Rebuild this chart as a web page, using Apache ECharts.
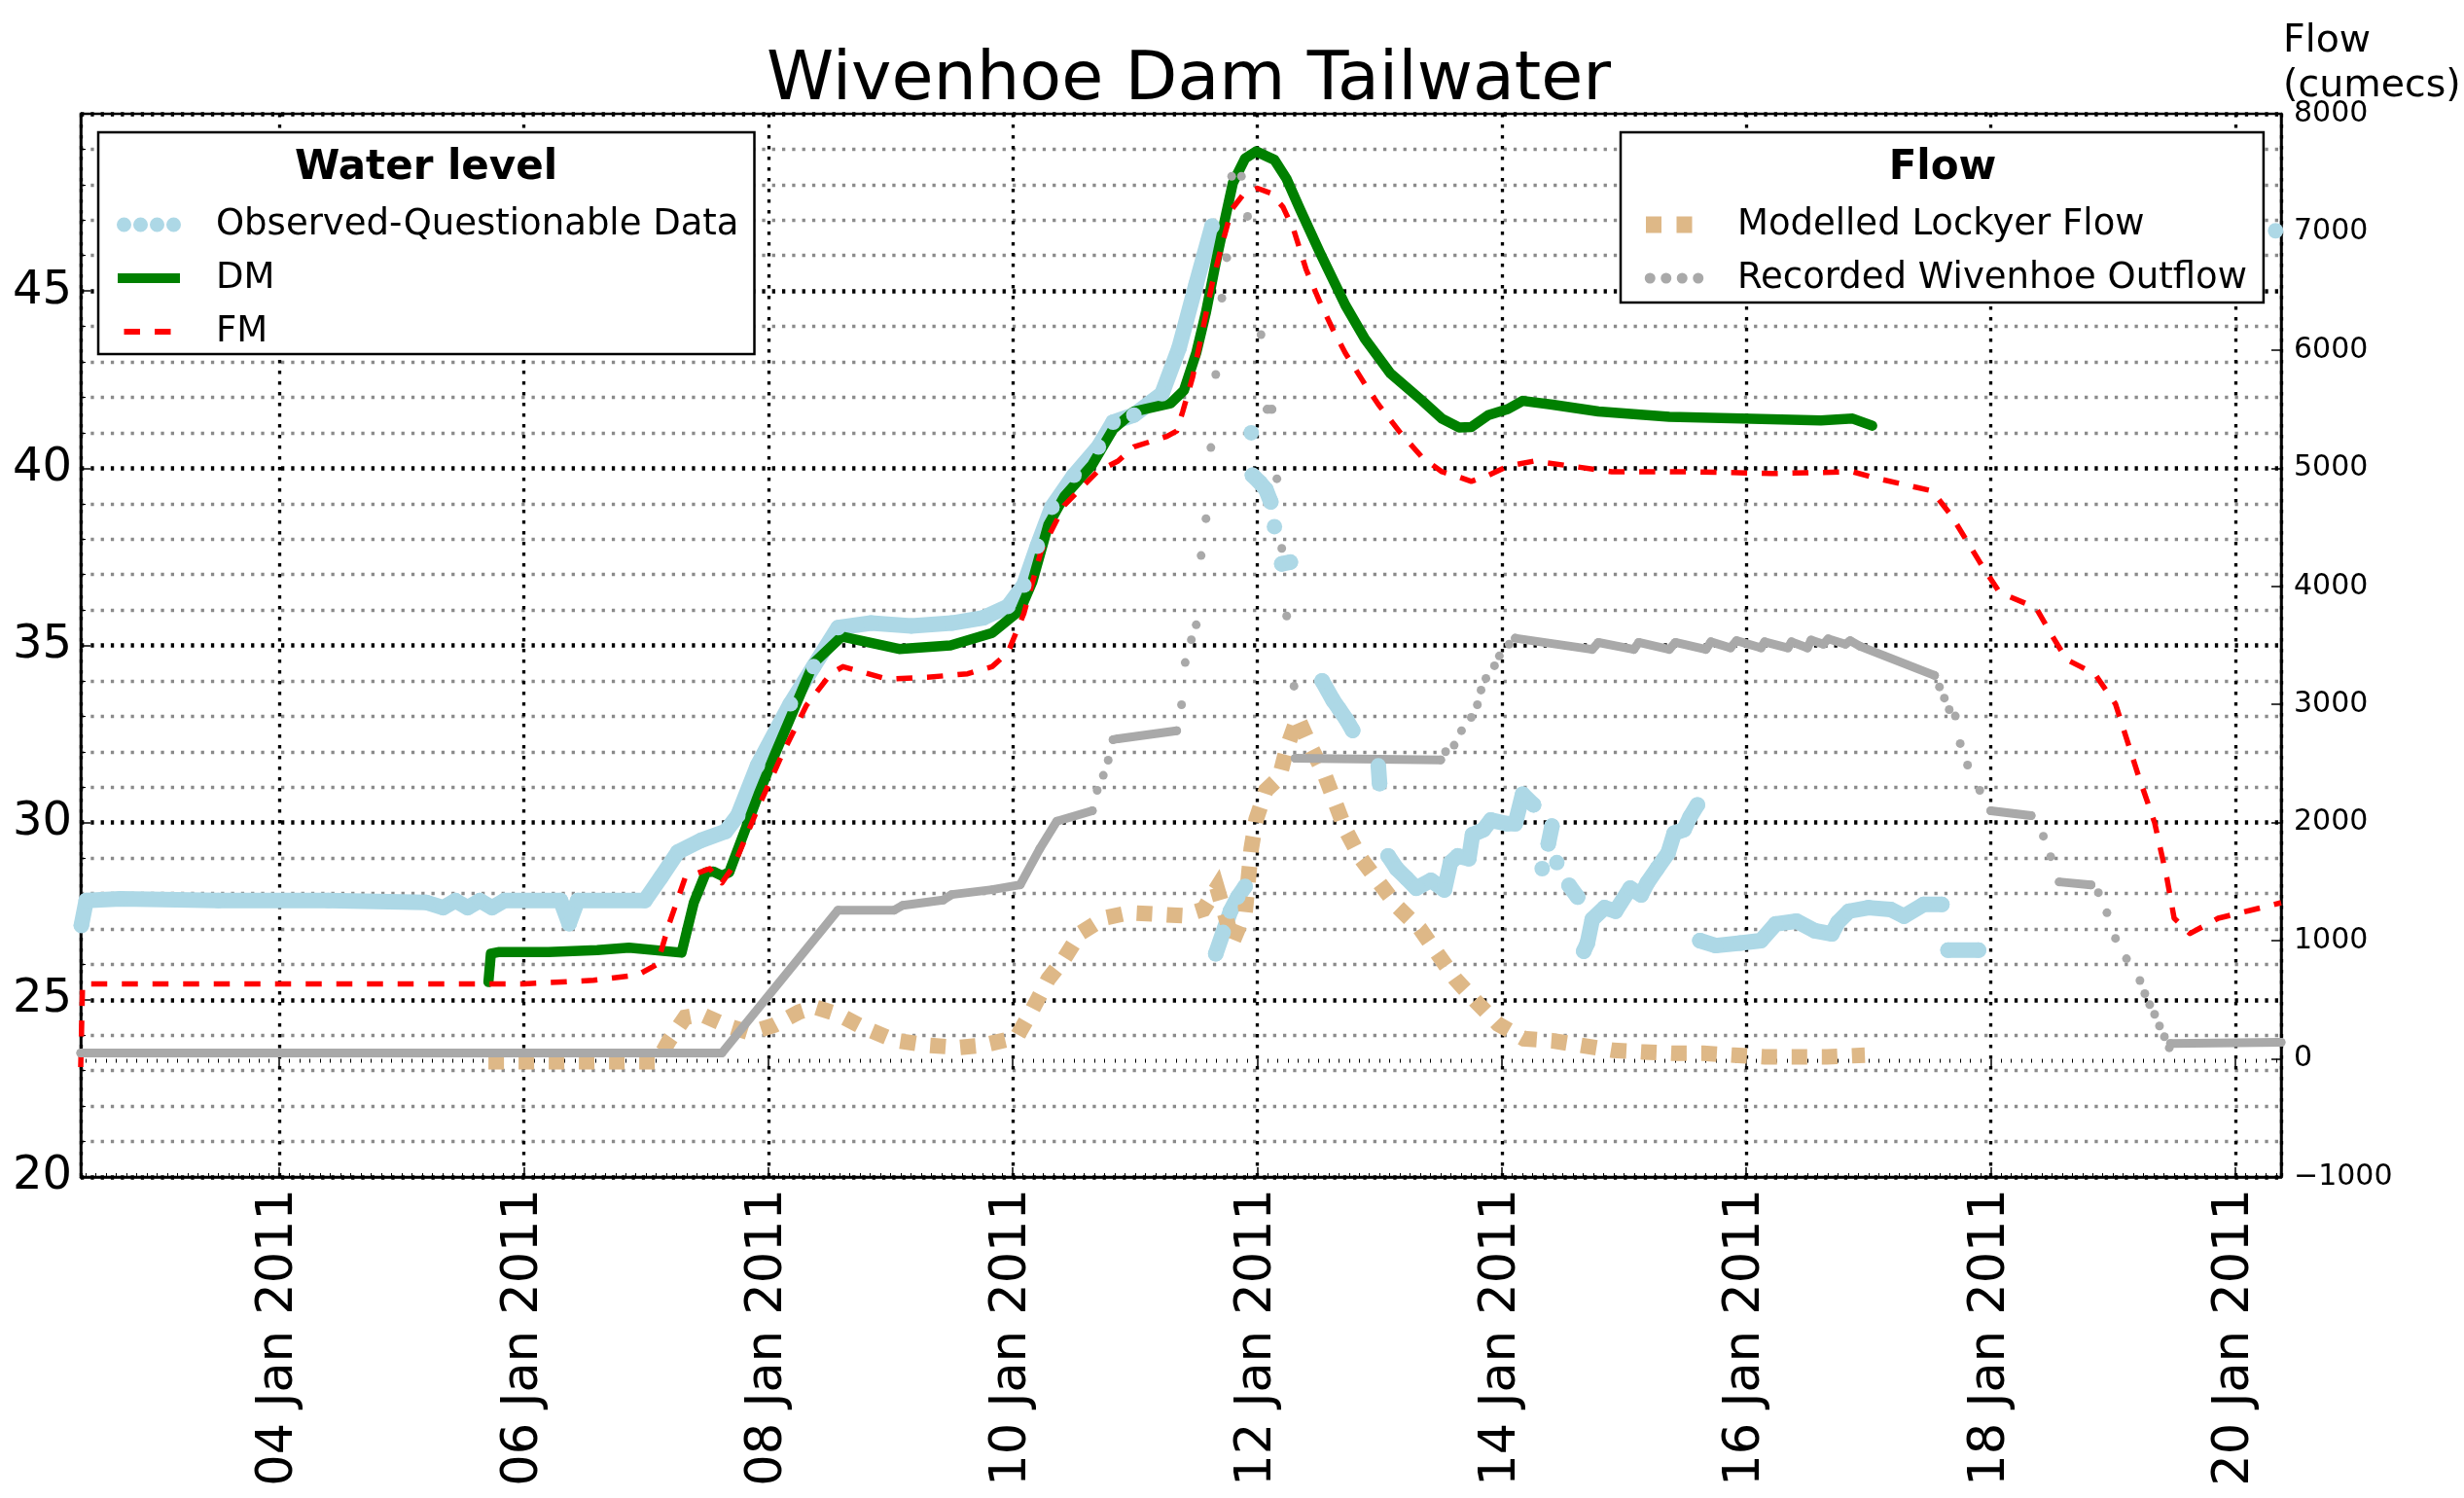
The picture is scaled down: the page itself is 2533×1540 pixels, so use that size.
<!DOCTYPE html>
<html>
<head>
<meta charset="utf-8">
<title>Wivenhoe Dam Tailwater</title>
<script src="https://cdn.jsdelivr.net/npm/echarts@6/dist/echarts.min.js"></script>
<style>
  html, body { margin: 0; padding: 0; background: #fff; }
  #chart { width: 2533px; height: 1540px; }
</style>
</head>
<body>
<div id="chart"></div>
<script>
// Time is expressed as day of January 2011 (e.g. 11.5 = 11 Jan 12:00).
const X_MIN = 2.375;
const X_MAX = 20.375;

// Water level (m) - observed gauge record, split into the runs where readings exist
const observedRuns = [
  [[2.38, 27.1], [2.42, 27.8], [2.7, 27.85], [3.5, 27.8], [4.4, 27.8], [5.2, 27.75], [5.34, 27.6], [5.44, 27.8],
   [5.54, 27.6], [5.64, 27.8], [5.74, 27.6], [5.84, 27.8], [6.3, 27.8], [6.37, 27.15], [6.44, 27.8], [6.99, 27.8],
   [7.12, 28.45], [7.26, 29.17], [7.45, 29.5], [7.65, 29.75], [7.75, 30.2], [7.91, 31.6], [8.18, 33.35], [8.37, 34.4],
   [8.57, 35.5], [8.84, 35.63], [9.17, 35.55], [9.5, 35.63], [9.76, 35.78], [9.96, 36.1], [10.09, 36.7], [10.2, 37.8],
   [10.32, 38.9], [10.5, 39.8], [10.7, 40.6], [10.82, 41.3], [10.99, 41.5], [11.22, 42.1], [11.36, 43.4],
   [11.5, 45.2], [11.63, 46.83]],
  [[11.66, 26.3], [11.72, 26.9], [11.78, 27.5], [11.84, 27.9], [11.9, 28.2]],
  [[11.95, 41.0]],
  [[11.96, 39.8], [12.02, 39.6], [12.07, 39.4], [12.11, 39.05]],
  [[12.14, 38.35]],
  [[12.2, 37.3], [12.27, 37.35]],
  [[12.53, 34.0], [12.62, 33.45], [12.67, 33.2], [12.73, 32.9], [12.78, 32.6]],
  [[12.99, 31.6], [13.0, 31.1]],
  [[13.07, 29.06], [13.14, 28.7], [13.22, 28.43], [13.3, 28.15], [13.42, 28.37], [13.53, 28.1], [13.58, 28.87],
   [13.64, 29.06], [13.73, 28.98], [13.76, 29.66], [13.85, 29.8], [13.91, 30.07], [14.04, 29.97], [14.11, 29.97],
   [14.17, 30.8], [14.26, 30.5]],
  [[14.33, 28.7]],
  [[14.38, 29.4], [14.41, 29.9]],
  [[14.45, 28.87]],
  [[14.55, 28.23], [14.62, 27.9]],
  [[14.67, 26.37], [14.7, 26.6], [14.74, 27.27], [14.84, 27.6], [14.93, 27.5], [15.05, 28.15], [15.14, 27.96],
   [15.19, 28.3], [15.27, 28.7], [15.36, 29.14], [15.41, 29.7], [15.49, 29.8], [15.54, 30.16], [15.6, 30.5]],
  [[15.62, 26.67], [15.75, 26.53], [15.95, 26.6], [16.12, 26.67], [16.24, 27.14], [16.41, 27.22], [16.56, 26.95],
   [16.7, 26.86], [16.75, 27.19], [16.84, 27.5], [17.0, 27.6], [17.18, 27.55], [17.29, 27.36], [17.45, 27.69],
   [17.6, 27.69]],
  [[17.65, 26.4], [17.9, 26.4]],
  [[20.33, 46.7]]
];

// Water level (m) - DM model
const dmLevel = [
  [5.71, 25.5], [5.73, 26.3], [5.8, 26.35], [6.2, 26.35], [6.6, 26.4], [6.86, 26.47], [7.29, 26.33], [7.39, 27.74],
  [7.49, 28.6], [7.55, 28.62], [7.62, 28.5], [7.68, 28.6], [7.92, 30.8], [8.05, 31.9], [8.37, 34.5], [8.6, 35.25],
  [9.07, 34.9], [9.49, 35.0], [9.83, 35.35], [10.06, 36.0], [10.16, 36.8], [10.29, 38.4], [10.42, 39.2],
  [10.65, 40.1], [10.82, 41.1], [10.99, 41.6], [11.29, 41.83], [11.4, 42.2], [11.5, 43.25], [11.58, 44.4],
  [11.66, 45.8], [11.74, 47.1], [11.8, 48.05], [11.9, 48.74], [11.99, 48.94], [12.14, 48.7], [12.24, 48.16],
  [12.35, 47.3], [12.51, 46.1], [12.72, 44.6], [12.88, 43.65], [13.09, 42.67], [13.35, 41.9], [13.51, 41.4],
  [13.65, 41.15], [13.75, 41.16], [13.89, 41.5], [14.05, 41.67], [14.17, 41.9], [14.4, 41.8], [14.79, 41.6],
  [15.37, 41.45], [15.96, 41.4], [16.61, 41.35], [16.87, 41.4], [17.03, 41.2]
];

// Water level (m) - FM model
const fmLevel = [
  [2.375, 23.1], [2.39, 25.45], [6.0, 25.45], [6.57, 25.55], [6.93, 25.7], [7.09, 26.0], [7.19, 27.16], [7.32, 28.45],
  [7.52, 28.7], [7.62, 28.3], [7.72, 28.8], [7.92, 30.45], [8.11, 31.9], [8.31, 33.3], [8.51, 34.2], [8.61, 34.4],
  [8.97, 34.05], [9.3, 34.1], [9.63, 34.2], [9.83, 34.4], [9.96, 34.8], [10.09, 35.9], [10.23, 37.65],
  [10.42, 38.95], [10.69, 39.9], [10.86, 40.2], [10.99, 40.6], [11.26, 40.9], [11.34, 41.05], [11.39, 41.6],
  [11.47, 42.56], [11.55, 43.85], [11.63, 45.2], [11.71, 46.3], [11.79, 47.3], [11.88, 47.7], [12.0, 47.9],
  [12.11, 47.76], [12.21, 47.37], [12.3, 46.7], [12.4, 45.6], [12.51, 44.7], [12.62, 43.9], [12.72, 43.25],
  [12.88, 42.37], [12.99, 41.8], [13.17, 41.0], [13.35, 40.3], [13.51, 39.9], [13.65, 39.75], [13.75, 39.63],
  [13.89, 39.8], [14.05, 40.06], [14.26, 40.2], [14.59, 40.05], [14.9, 39.9], [15.56, 39.9], [16.21, 39.85],
  [16.87, 39.9], [17.06, 39.72], [17.52, 39.36], [17.68, 38.65], [17.91, 37.35], [18.07, 36.5], [18.37, 36.06],
  [18.49, 35.34], [18.62, 34.6], [18.85, 34.2], [19.02, 33.35], [19.21, 31.3], [19.34, 30.0], [19.44, 28.45],
  [19.5, 27.3], [19.63, 26.87], [19.86, 27.3], [20.12, 27.52], [20.375, 27.74]
];

// Flow (cumecs) - modelled Lockyer Creek inflow
const lockyerFlow = [
  [5.71, -25], [7.09, -25], [7.19, 158], [7.32, 352], [7.45, 377], [7.65, 286], [7.85, 221], [8.05, 286],
  [8.25, 396], [8.38, 439], [8.57, 377], [8.77, 269], [9.03, 158], [9.3, 116], [9.56, 96], [9.76, 116],
  [10.03, 181], [10.16, 418], [10.29, 676], [10.42, 848], [10.55, 1064], [10.75, 1193], [10.95, 1237],
  [11.15, 1226], [11.39, 1212], [11.56, 1267], [11.67, 1449], [11.8, 995], [11.9, 1242], [11.95, 1778],
  [11.99, 2026], [12.07, 2273], [12.18, 2380], [12.24, 2627], [12.33, 2891], [12.43, 2655], [12.55, 2407],
  [12.64, 2160], [12.72, 1943], [12.84, 1707], [12.99, 1500], [13.15, 1284], [13.33, 1102], [13.47, 896],
  [13.62, 676], [13.79, 484], [13.97, 294], [14.18, 171], [14.41, 154], [14.66, 113], [14.91, 72], [15.16, 58],
  [15.41, 47], [15.65, 47], [15.9, 31], [16.15, 17], [16.41, 17], [16.66, 17], [16.97, 31]
];

// Flow (cumecs) - recorded Wivenhoe Dam outflow, split into runs of closely spaced readings
const outflowRuns = [
  [[2.375, 50], [7.62, 50], [8.57, 1259], [9.03, 1259], [9.1, 1300], [9.43, 1345], [9.5, 1391], [9.83, 1432],
   [10.06, 1473], [10.22, 1778], [10.36, 2012], [10.65, 2100]],
  [[10.69, 2273]], [[10.74, 2400]], [[10.78, 2528]],
  [[10.82, 2702], [10.86, 2710], [11.34, 2778]],
  [[11.38, 2998]], [[11.41, 3355]], [[11.46, 3548]], [[11.5, 3674]], [[11.54, 4261]], [[11.58, 4573]],
  [[11.62, 5175]], [[11.66, 5793]], [[11.71, 6440]], [[11.75, 6782]], [[11.79, 7471]], [[11.87, 7471]],
  [[11.92, 7132]], [[12.03, 6131]], [[12.08, 5498], [12.12, 5498]], [[12.16, 4911]], [[12.2, 4321]],
  [[12.24, 3749]], [[12.3, 3155]],
  [[12.31, 2545], [13.5, 2531]],
  [[13.54, 2600]], [[13.61, 2655]], [[13.67, 2778]], [[13.75, 2891]], [[13.8, 2998]], [[13.83, 3122]],
  [[13.87, 3221]], [[13.94, 3328]], [[13.98, 3411]], [[14.06, 3510]],
  [[14.11, 3561], [14.74, 3466], [14.79, 3525], [15.08, 3466], [15.12, 3525], [15.37, 3466], [15.42, 3525],
   [15.67, 3466], [15.71, 3530], [15.87, 3479], [15.92, 3540], [16.12, 3479], [16.15, 3530], [16.34, 3479],
   [16.37, 3530], [16.5, 3479], [16.53, 3545], [16.63, 3510], [16.67, 3555], [16.81, 3510], [16.85, 3540],
   [16.93, 3493], [17.54, 3246]],
  [[17.58, 3149]], [[17.62, 3054]], [[17.66, 2957]], [[17.71, 2902]], [[17.75, 2669]], [[17.81, 2487]],
  [[17.91, 2273]],
  [[18.0, 2100], [18.33, 2059]],
  [[18.43, 1885]], [[18.49, 1712]],
  [[18.56, 1498], [18.82, 1473]],
  [[18.88, 1407]], [[18.95, 1237]], [[19.02, 1020]], [[19.11, 848]], [[19.22, 663]], [[19.26, 552]],
  [[19.3, 459]], [[19.34, 377]], [[19.38, 278]], [[19.42, 187]], [[19.46, 94]],
  [[19.47, 130], [20.375, 140]]
];

// Runs are joined with gaps so that separate readings stay unconnected
function joinRuns(runs) {
  const out = [];
  runs.forEach((run, i) => {
    if (i > 0) out.push([run[0][0], null]);
    run.forEach(p => out.push(p));
  });
  return out;
}

const FONT = 'DejaVu Sans';
const C_OBS = '#add8e6', C_DM = '#008000', C_FM = '#ff0000', C_LOCK = '#deb887', C_OUT = '#a9a9a9';

function dayLabel(v) {
  const d = Math.round(v);
  if (Math.abs(v - d) > 1e-6 || d % 2 !== 0) return '';
  return (d < 10 ? '0' : '') + d + ' Jan 2011';
}

// Legend glyphs on a 66 x 17 box (the two hair-size corners pin the box size)
const BOX = 'M0,0h0.01v0.01h-0.01z M65.99,16.99h0.01v0.01h-0.01z ';
const ICON_OBS = 'path://' + BOX +
  'M0,8.5a7.5,7.5 0 1,0 15,0a7.5,7.5 0 1,0 -15,0z M17,8.5a7.5,7.5 0 1,0 15,0a7.5,7.5 0 1,0 -15,0z ' +
  'M34,8.5a7.5,7.5 0 1,0 15,0a7.5,7.5 0 1,0 -15,0z M51,8.5a7.5,7.5 0 1,0 15,0a7.5,7.5 0 1,0 -15,0z';
const ICON_DM = 'path://' + BOX + 'M1,3.5h64v10h-64z';
const ICON_FM = 'path://' + BOX + 'M7.5,5.5h16.5v6h-16.5z M39,5.5h16.5v6h-16.5z';
const ICON_LOCK = 'path://' + BOX + 'M4,0h16v17h-16z M35.5,0h16v17h-16z';
const ICON_OUT = 'path://' + BOX +
  'M2.75,8.5a5.5,5.5 0 1,0 11,0a5.5,5.5 0 1,0 -11,0z M19.25,8.5a5.5,5.5 0 1,0 11,0a5.5,5.5 0 1,0 -11,0z ' +
  'M35.75,8.5a5.5,5.5 0 1,0 11,0a5.5,5.5 0 1,0 -11,0z M52.25,8.5a5.5,5.5 0 1,0 11,0a5.5,5.5 0 1,0 -11,0z';

const legendCommon = {
  orient: 'vertical',
  itemWidth: 66,
  itemHeight: 17,
  itemGap: 15,
  backgroundColor: '#fff',
  borderColor: '#000',
  borderWidth: 2.5,
  borderRadius: 0,
  symbolKeepAspect: false,
  selectedMode: false,
  itemStyle: { borderWidth: 0 }
};
const legendText = { fontSize: 37, fontFamily: FONT, color: '#000', lineHeight: 40 };

const xAxisCommon = {
  type: 'value', min: X_MIN, max: X_MAX, splitNumber: 9
};

const chart = echarts.init(document.getElementById('chart'), null, { renderer: 'canvas' });
chart.setOption({
  animation: false,
  backgroundColor: '#fff',
  title: {
    text: 'Wivenhoe Dam Tailwater',
    left: 788, top: 49, padding: 0,
    textStyle: { fontSize: 70, fontWeight: 'normal', fontFamily: FONT, color: '#000' }
  },
  grid: {
    left: 83, right: 188, top: 117, bottom: 330,
    show: true, borderColor: '#000', borderWidth: 2.5, backgroundColor: 'rgba(0,0,0,0)',
    containLabel: false, outerBoundsMode: 'none'
  },
  xAxis: [
    Object.assign({}, xAxisCommon, {
      position: 'bottom',
      axisLine: { show: true, onZero: false, lineStyle: { color: '#000', width: 2.5 } },
      axisTick: { show: true, inside: true, length: 10, lineStyle: { color: '#000', width: 1.5 } },
      minorTick: { show: true, splitNumber: 24, length: 4, lineStyle: { color: '#000', width: 1 } },
      axisLabel: {
        rotate: 90, fontSize: 51, fontFamily: FONT, color: '#000', margin: 12,
        showMinLabel: false, showMaxLabel: false, formatter: dayLabel
      },
      splitLine: { show: true, lineStyle: { color: '#000', width: 3.3, type: [3.5, 7.5] } },
      minorSplitLine: { show: false }
    }),
    Object.assign({}, xAxisCommon, {
      position: 'top',
      axisLine: { show: false },
      axisTick: { show: true, inside: true, length: 10, lineStyle: { color: '#000', width: 1.5 } },
      minorTick: { show: true, splitNumber: 24, length: 4, lineStyle: { color: '#000', width: 1 } },
      axisLabel: { show: false },
      splitLine: { show: false }
    })
  ],
  yAxis: [
    {
      type: 'value', min: 20, max: 50, interval: 5, position: 'left',
      axisLine: { show: true, onZero: false, lineStyle: { color: '#000', width: 2.5 } },
      axisTick: { show: true, inside: true, length: 10, lineStyle: { color: '#000', width: 1.5 } },
      minorTick: { show: true, splitNumber: 5, length: 5, lineStyle: { color: '#000', width: 1 } },
      axisLabel: { fontSize: 48, fontFamily: FONT, color: '#000', margin: 9, showMaxLabel: false },
      splitLine: { show: true, lineStyle: { color: '#000', width: 4.5, type: [3.3, 7] } },
      minorSplitLine: { show: true, lineStyle: { color: '#8a8a8a', width: 3.3, type: [3.3, 7] } }
    },
    {
      type: 'value', min: -1000, max: 8000, interval: 1000, position: 'right',
      axisLine: { show: true, onZero: false, lineStyle: { color: '#000', width: 2.5 } },
      axisTick: { show: true, inside: true, length: 10, lineStyle: { color: '#000', width: 1.5 } },
      axisLabel: {
        fontSize: 30, fontFamily: FONT, color: '#000', margin: 13,
        formatter: v => (v < 0 ? '\u2212' + Math.abs(v) : String(v))
      },
      splitLine: { show: false }
    }
  ],
  legend: [
    Object.assign({}, legendCommon, {
      left: 101, top: 136, padding: [75, 16, 3, 19],
      textStyle: Object.assign({ padding: [0, 0, 0, 31] }, legendText),
      data: [
        { name: 'Observed-Questionable Data', icon: ICON_OBS, itemStyle: { color: C_OBS } },
        { name: 'DM', icon: ICON_DM, itemStyle: { color: C_DM } },
        { name: 'FM', icon: ICON_FM, itemStyle: { color: C_FM } }
      ]
    }),
    Object.assign({}, legendCommon, {
      left: 1666, top: 136, padding: [75, 17, 5, 22],
      textStyle: Object.assign({ padding: [0, 0, 0, 27] }, legendText),
      data: [
        { name: 'Modelled Lockyer Flow', icon: ICON_LOCK, itemStyle: { color: C_LOCK } },
        { name: 'Recorded Wivenhoe Outflow', icon: ICON_OUT, itemStyle: { color: C_OUT } }
      ]
    })
  ],
  graphic: [
    { type: 'text', x: 438, y: 173, z: 100,
      style: { text: 'Water level', fontSize: 42, fontWeight: 'bold', fontFamily: FONT, fill: '#000', align: 'center', verticalAlign: 'middle' } },
    { type: 'text', x: 1997, y: 173, z: 100,
      style: { text: 'Flow', fontSize: 42, fontWeight: 'bold', fontFamily: FONT, fill: '#000', align: 'center', verticalAlign: 'middle' } },
    // Unit caption of the right-hand (flow) axis
    { type: 'text', x: 2347, y: 20, z: 100,
      style: { text: 'Flow\n(cumecs)', fontSize: 39.5, lineHeight: 46, fontFamily: FONT, fill: '#000', align: 'left', verticalAlign: 'top' } }
  ],
  series: [
    {
      name: 'Observed-Questionable Data', type: 'line', xAxisIndex: 0, yAxisIndex: 0,
      data: joinRuns(observedRuns), connectNulls: false,
      symbol: 'circle', symbolSize: 16, showSymbol: true,
      lineStyle: { color: C_OBS, width: 16, cap: 'round', join: 'round' },
      itemStyle: { color: C_OBS, borderWidth: 0 },
      emphasis: { disabled: true }
    },
    {
      name: 'DM', type: 'line', xAxisIndex: 0, yAxisIndex: 0,
      data: dmLevel, showSymbol: false, symbol: 'none',
      lineStyle: { color: C_DM, width: 10.5, cap: 'round', join: 'round' },
      itemStyle: { color: C_DM },
      emphasis: { disabled: true }
    },
    {
      name: 'FM', type: 'line', xAxisIndex: 0, yAxisIndex: 0,
      data: fmLevel, showSymbol: false, symbol: 'none',
      lineStyle: { color: C_FM, width: 5.5, type: [16.5, 15], cap: 'butt', join: 'round' },
      itemStyle: { color: C_FM },
      emphasis: { disabled: true }
    },
    {
      name: 'Modelled Lockyer Flow', type: 'line', xAxisIndex: 0, yAxisIndex: 1,
      data: lockyerFlow, showSymbol: false, symbol: 'none',
      lineStyle: { color: C_LOCK, width: 16, type: [16, 15], cap: 'butt', join: 'miter' },
      itemStyle: { color: C_LOCK },
      emphasis: { disabled: true }
    },
    {
      name: 'Recorded Wivenhoe Outflow', type: 'line', xAxisIndex: 0, yAxisIndex: 1,
      data: joinRuns(outflowRuns), connectNulls: false,
      symbol: 'circle', symbolSize: 9, showSymbol: true,
      lineStyle: { color: C_OUT, width: 9, cap: 'round', join: 'round' },
      itemStyle: { color: C_OUT, borderWidth: 0 },
      emphasis: { disabled: true }
    }
  ]
});
</script>
</body>
</html>
